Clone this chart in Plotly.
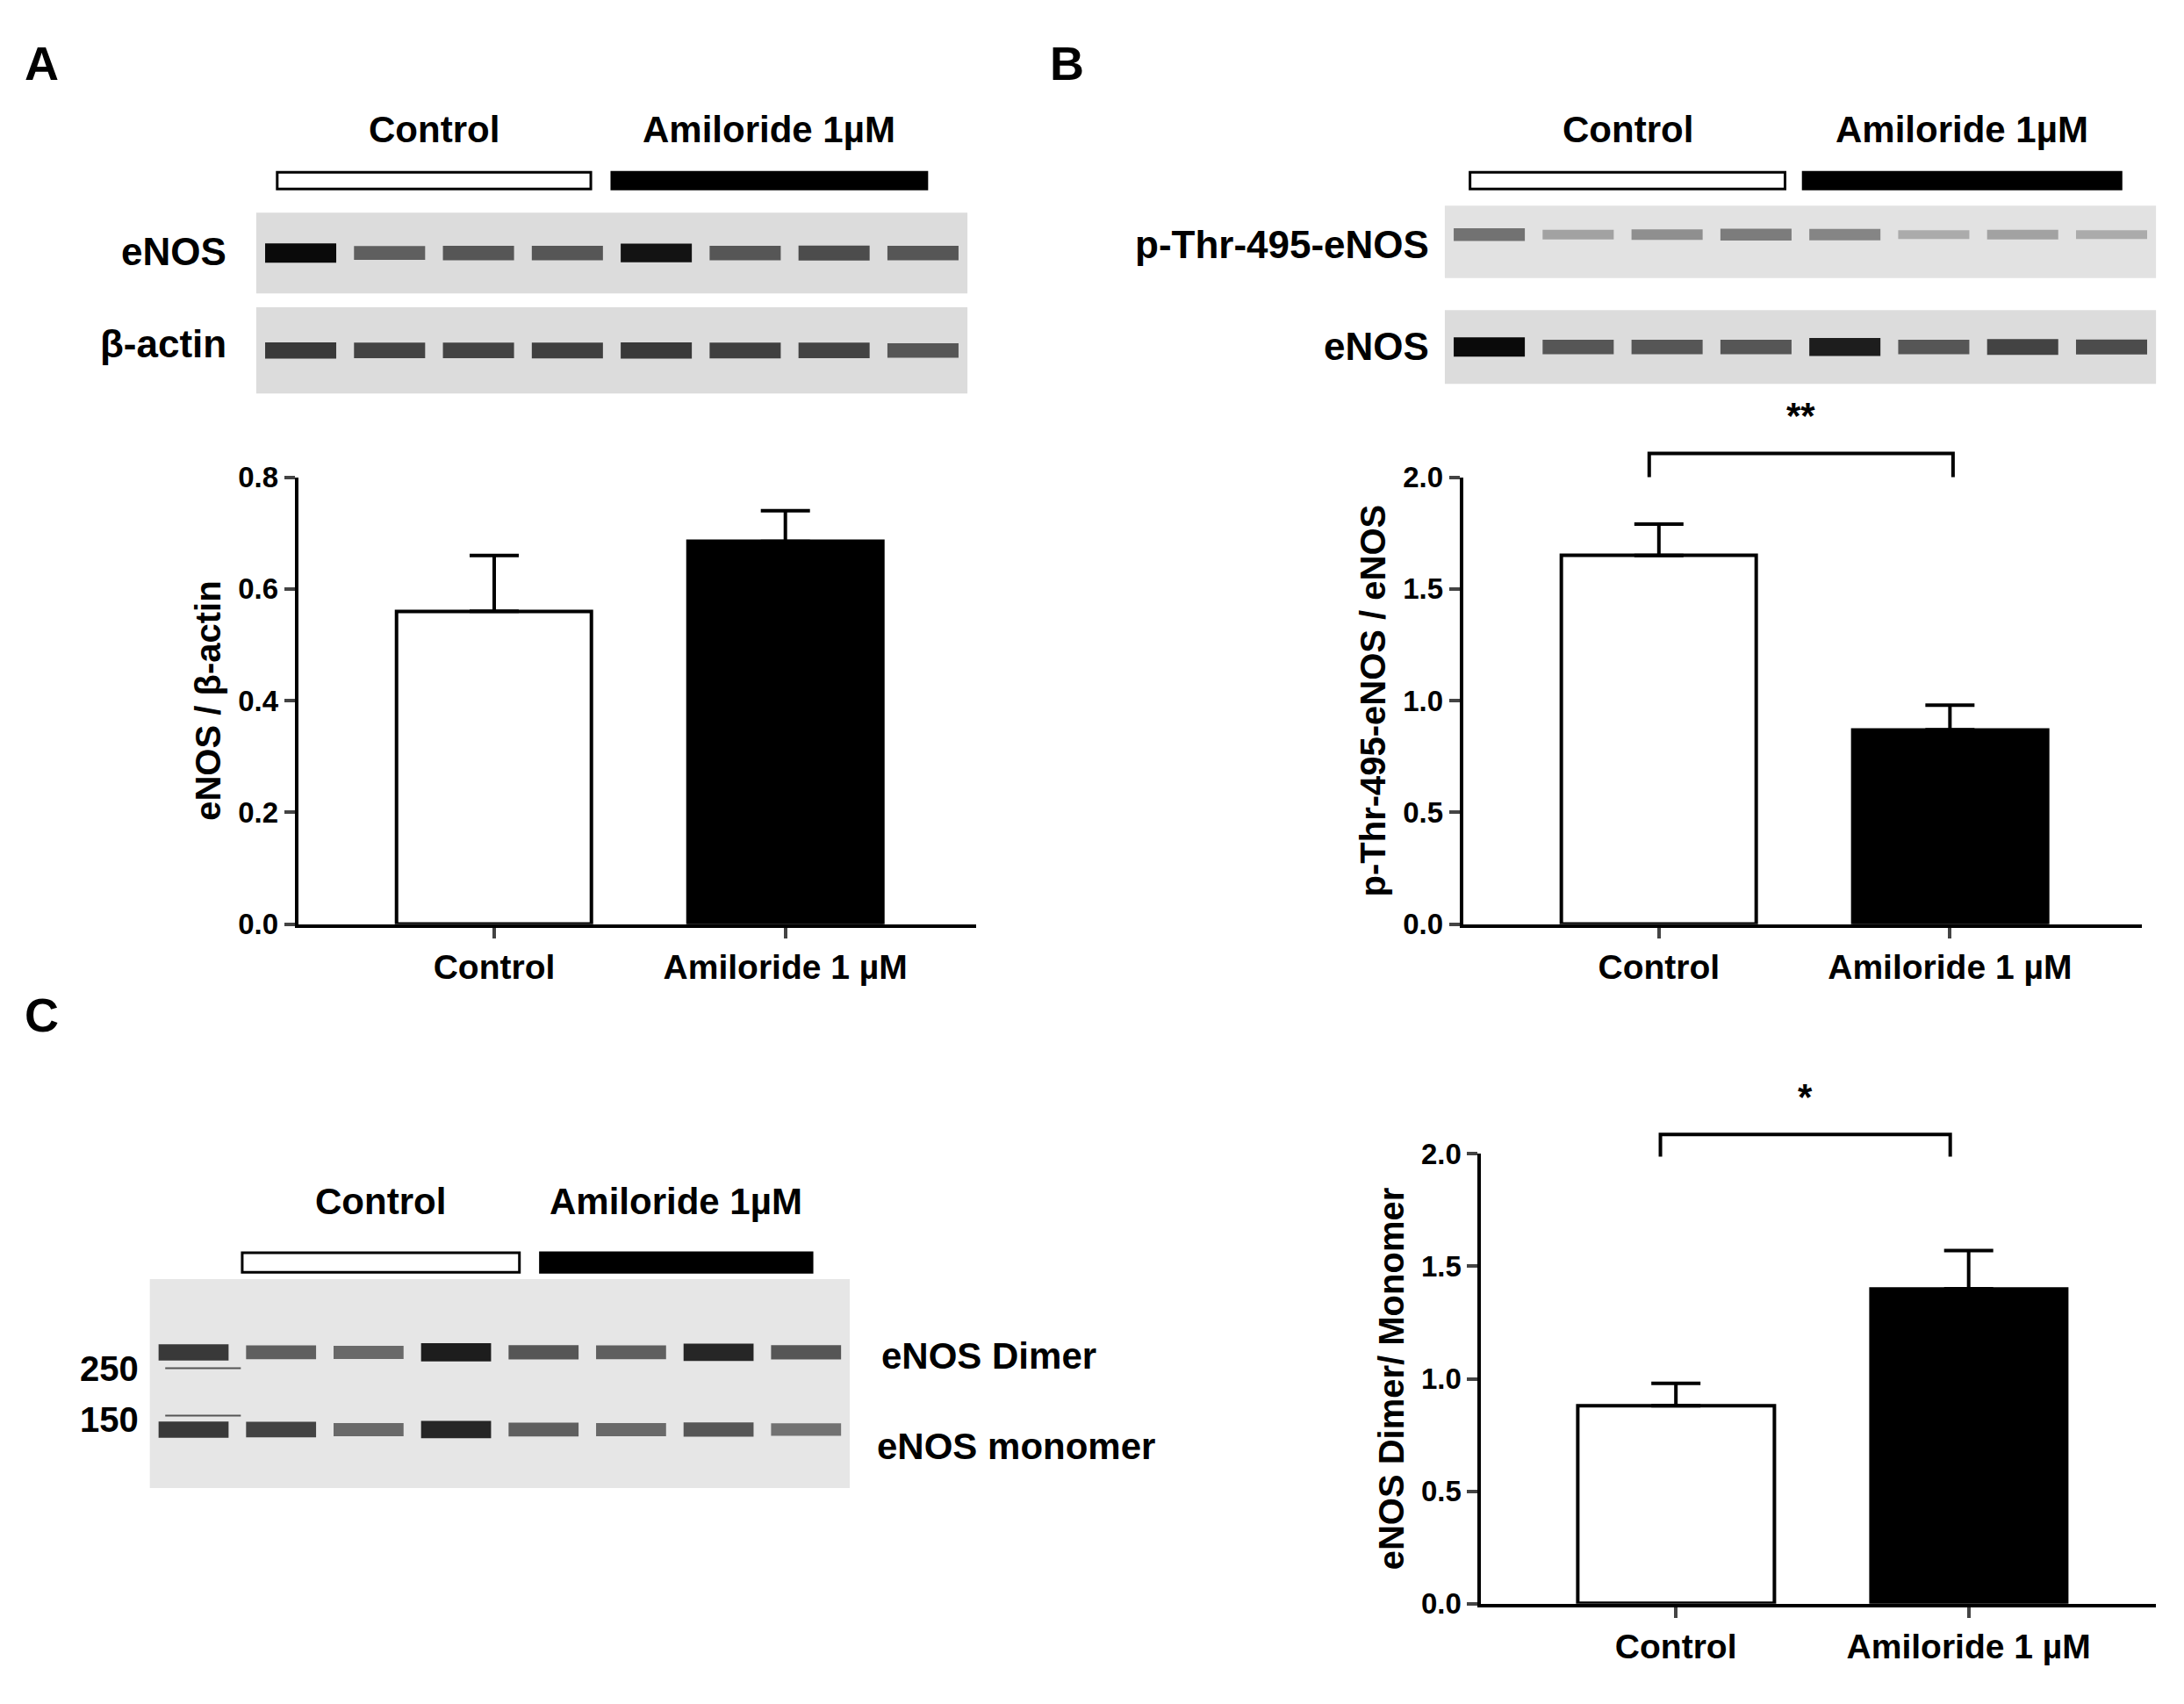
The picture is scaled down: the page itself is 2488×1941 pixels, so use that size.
import plotly.graph_objects as go

W, H = 1560.0, 1217.0
groups = ["Control", "Amiloride 1 µM"]
a_vals = [0.56, 0.685]; a_err = [0.10, 0.055]
b_vals = [1.65, 0.87]; b_err = [0.14, 0.11]
c_vals = [0.88, 1.40]; c_err = [0.10, 0.17]
a_enos = [1.0, 0.55, 0.6, 0.6, 0.95, 0.6, 0.65, 0.6]
a_actin = [0.75, 0.7, 0.7, 0.72, 0.75, 0.72, 0.7, 0.6]
b_pthr = [0.45, 0.2, 0.3, 0.4, 0.35, 0.15, 0.2, 0.15]
b_enos = [1.0, 0.6, 0.6, 0.6, 0.9, 0.6, 0.7, 0.65]
c_dimer = [0.75, 0.55, 0.5, 0.9, 0.6, 0.55, 0.85, 0.6]
c_mono = [0.75, 0.7, 0.5, 0.85, 0.55, 0.5, 0.6, 0.45]

FONT = "Liberation Sans"
fig = go.Figure()
px = lambda x: (x - 5) / W
py = lambda y: 1 - ((y - 15.7) / 0.9864) / H
shapes, ann = [], []
layout = {}

def txt(x, y, s, size=42, xa="center"):
    ann.append(dict(x=px(x), y=py(y), xref="paper", yref="paper", text="<b>%s</b>" % s,
                    showarrow=False, xanchor=xa, yanchor="middle", font=dict(size=size, family=FONT, color="black")))

def bars(n, x0, x1, y0, y1, vals, errs, rng, dtick, title, xr):
    xa, ya = "xaxis%d" % n, "yaxis%d" % n
    fig.add_trace(go.Bar(x=[0, 1], y=vals, width=0.67, marker=dict(color=["white", "black"], line=dict(color="black", width=4)),
                         error_y=dict(type="data", array=errs, arrayminus=[0, 0], symmetric=False, color="black", thickness=4, width=28),
                         xaxis="x%d" % n, yaxis="y%d" % n, showlegend=False))
    tv = [round(i * dtick, 2) for i in range(int(round(rng[1] / dtick)) + 1)]
    layout[xa] = dict(domain=[px(x0), px(x1)], range=xr, tickvals=[0, 1], ticktext=["<b>%s</b>" % g for g in groups],
                      showline=True, linecolor="black", linewidth=4, ticks="outside", ticklen=12, tickwidth=4,
                      tickfont=dict(size=39, family=FONT, color="black"), anchor="y%d" % n, showgrid=False, zeroline=False)
    layout[ya] = dict(domain=[py(y1), py(y0)], range=rng, tickvals=tv, ticktext=["<b>%.1f</b>" % v for v in tv],
                      showline=True, linecolor="black", linewidth=4,
                      ticks="outside", ticklen=12, tickwidth=4, tickfont=dict(size=33, family=FONT, color="black"),
                      title=dict(text="<b>%s</b>" % title, font=dict(size=40, family=FONT, color="black"), standoff=8),
                      anchor="x%d" % n, showgrid=False, zeroline=False)

bars(1, 213, 697, 342, 663, a_vals, a_err, [0, 0.8], 0.2, "eNOS / β-actin", [-0.673, 1.654])
bars(2, 1045, 1530, 342, 663, b_vals, b_err, [0, 2.0], 0.5, "p-Thr-495-eNOS / eNOS", [-0.673, 1.66])
bars(3, 1058, 1540, 828, 1151, c_vals, c_err, [0, 2.0], 0.5, "eNOS Dimer/ Monomer", [-0.665, 1.64])

def bracket(x0, x1, y, ybot, s, ty):
    shapes.append(dict(type="path", xref="paper", yref="paper",
                       path="M %f %f L %f %f L %f %f L %f %f" % (px(x0), py(ybot), px(x0), py(y), px(x1), py(y), px(x1), py(ybot)),
                       line=dict(color="black", width=4)))
    txt((x0 + x1) / 2, ty, s, 42)
bracket(1178, 1395, 325, 342, "**", 298)
bracket(1186, 1393, 814, 830, "*", 787)

n_ax = [3]
def blot(x0, x1, y0, y1, rows, bg="#dcdcdc"):
    shapes.append(dict(type="rect", xref="paper", yref="paper", x0=px(x0), x1=px(x1), y0=py(y1), y1=py(y0),
                       fillcolor=bg, line=dict(width=0), layer="below"))
    n_ax[0] += 1; n = n_ax[0]
    layout["xaxis%d" % n] = dict(domain=[px(x0), px(x1)], range=[0.5, 8.5], visible=False, anchor="y%d" % n)
    layout["yaxis%d" % n] = dict(domain=[py(y1), py(y0)], range=[0, 1], visible=False, anchor="x%d" % n)
    for yy, vals in rows:
        for i, v in enumerate(vals):
            g = int(200 - 190 * v)
            fig.add_trace(go.Scatter(x=[i + 0.6, i + 1.4], y=[yy, yy], mode="lines", showlegend=False, hoverinfo="skip",
                                     line=dict(color="rgb(%d,%d,%d)" % (g, g, g), width=8 + 14 * v),
                                     xaxis="x%d" % n, yaxis="y%d" % n))

def grp(x0, x1, x2, x3, yt, yb, ytxt):
    shapes.append(dict(type="rect", xref="paper", yref="paper", x0=px(x0), x1=px(x1), y0=py(yb), y1=py(yt), fillcolor="white", line=dict(color="black", width=3)))
    shapes.append(dict(type="rect", xref="paper", yref="paper", x0=px(x2), x1=px(x3), y0=py(yb), y1=py(yt), fillcolor="black", line=dict(color="black", width=3)))
    txt((x0 + x1) / 2, ytxt, "Control")
    txt((x2 + x3) / 2, ytxt, "Amiloride 1µM")

grp(198, 422, 437, 662, 123, 135, 92)
blot(183, 691, 152, 210, [(0.5, a_enos)])
blot(183, 691, 220, 282, [(0.5, a_actin)])
txt(163, 180, "eNOS", 44, "right"); txt(163, 246, "β-actin", 44, "right")
grp(1050, 1275, 1288, 1515, 123, 135, 92)
blot(1032, 1540, 147, 199, [(0.6, b_pthr)], "#e2e2e2")
blot(1032, 1540, 222, 275, [(0.5, b_enos)])
txt(1022, 175, "p-Thr-495-eNOS", 44, "right"); txt(1022, 248, "eNOS", 44, "right")
grp(173, 371, 386, 580, 899, 913, 862)
blot(107, 607, 918, 1068, [(0.65, c_dimer), (0.28, c_mono)], "#e6e6e6")
txt(100, 982, "250", 40, "right"); txt(100, 1019, "150", 40, "right")
for yy in (982, 1016):
    shapes.append(dict(type="line", xref="paper", yref="paper", x0=px(118), x1=px(172), y0=py(yy), y1=py(yy), line=dict(color="#555", width=2)))
txt(628, 973, "eNOS Dimer", 42, "left"); txt(625, 1038, "eNOS monomer", 42, "left")

for s, x, y in (("A", 30, 45), ("B", 762, 45), ("C", 30, 728)):
    txt(x, y, s, 54)

fig.update_layout(width=2488, height=1941, margin=dict(l=0, r=0, t=0, b=0), plot_bgcolor="white", paper_bgcolor="white",
                  shapes=shapes, annotations=ann, bargap=0, **layout)
fig.write_html("out.html")
